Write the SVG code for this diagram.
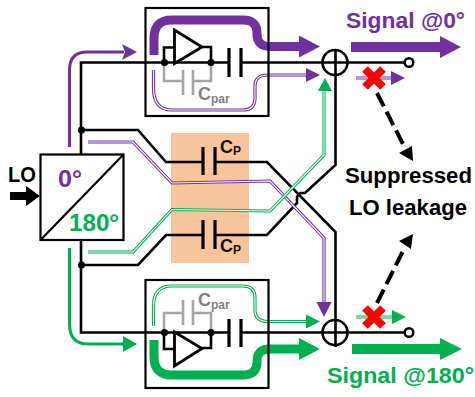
<svg xmlns="http://www.w3.org/2000/svg" width="475" height="397" viewBox="0 0 475 397">
<style>
text{font-family:"Liberation Sans",Arial,sans-serif;font-weight:700}
.w{fill:none;stroke:#000;stroke-width:2.6;stroke-linejoin:miter}
.box{fill:none;stroke:#000;stroke-width:2.2}
.plate{fill:none;stroke:#000;stroke-width:3.2}
.gray{fill:none;stroke:#A6A6A6;stroke-width:2.6}
.dot{fill:#000}
.pt{fill:none;stroke:#7030A0;stroke-width:9}
.gt{fill:none;stroke:#00B050;stroke-width:9}
.pm{fill:none;stroke:#7030A0;stroke-width:3}
.gm{fill:none;stroke:#00B050;stroke-width:3}
.po{fill:none;stroke:#7030A0;stroke-width:3.2}
.go{fill:none;stroke:#00B050;stroke-width:3.2}
.in{fill:none;stroke:#fff;stroke-width:1.1}
.pf{fill:#7030A0}
.gf{fill:#00B050}
.x{stroke:#FF0000;stroke-width:8;fill:none}
.dash{stroke:#000;stroke-width:4;stroke-dasharray:15 6;fill:none}
</style>
<defs>
<path id="dp1" d="M153.500 70V88Q153.500 110 172 110H243Q255 110 255 98V86Q255 75 268 75H306"/>
<path id="dg1" d="M153.500 326V306Q153.500 286 172 286H243Q255 286 255 298V310Q255 321.500 268 321.500H306"/>
<path id="dpx" d="M88 142H133L172 183L270 181L324 238V302"/>
<path id="dgx" d="M88 252H133L172 209.500L270 211L324 155V91"/>
<path id="dpo" d="M356 78H392"/>
<path id="dgo" d="M356 317H392"/>
</defs>
<rect id="shade" x="171" y="133" width="78" height="130" fill="#F8C49C"/>
<g id="connectors">
<path class="w" d="M81 154V62.500H229"/>
<path class="w" d="M81 240V332.500H229"/>
<path class="w" d="M81 130H138L166 162H267L335.500 232V347"/>
<path class="w" d="M81 265H138L166 235H267L297 203V197L300 193H305L335.500 165V49"/>
<path class="w" d="M241 62.500H405"/>
<path class="w" d="M241 332.500H405"/>
<path class="pm" d="M69.500 147V70Q69.500 52 87 52H124"/>
<path class="pf" d="M137 52L122 44L125 52L122 60Z"/>
<path class="gm" d="M69.500 248V324Q69.500 344 88 344H124"/>
<path class="gf" d="M137 344L123 336V352Z"/>
<use href="#dpx" class="po"/><use href="#dpx" class="in"/>
<path class="pf" d="M324 317L316.500 302H331.500Z"/>
<use href="#dgx" class="go"/><use href="#dgx" class="in"/>
<path class="gf" d="M325 78L318 91H332Z"/>
<path class="pt" d="M154 55V38Q154 20 172 20H243Q257 20 257 33V34Q257 46.500 270 46.500H300"/>
<path class="pf" d="M320 46.500L299 35.500V57.500Z"/>
<path class="gt" d="M154 340V357Q154 375 172 375H243Q257 375 257 362V361Q257 349 270 349H300"/>
<path class="gf" d="M320 349L299 338V360Z"/>
<use href="#dp1" class="po"/><use href="#dp1" class="in"/>
<path class="pf" d="M320 75L306 68V82Z"/>
<use href="#dg1" class="go"/><use href="#dg1" class="in"/>
<path class="gf" d="M320 321.500L306 314.500V328.500Z"/>
<path class="pf" d="M351 42H440V36L461 47L440 58V52H351Z"/>
<path class="gf" d="M352 344H440V338L462 349L440 360V354H352Z"/>
<use href="#dpo" class="po"/><use href="#dpo" class="in"/>
<path class="pf" d="M405 78L391 71V85Z"/>
<use href="#dgo" class="go"/><use href="#dgo" class="in"/>
<path class="gf" d="M406 317L392 310V324Z"/>
<path class="dash" d="M377 93L405 148"/>
<path class="dot" d="M413 161L399 153L412 146Z"/>
<path class="dash" d="M377 303L405 247"/>
<path class="dot" d="M413 234L399 241L411 249Z"/>
</g>
<g id="lo-input">
<path class="dot" d="M10 192H26V186L40 196L26 206V200H10Z"/>
<text x="8" y="182" font-size="22" textLength="28" lengthAdjust="spacingAndGlyphs">LO</text>
</g>
<g id="splitter">
<rect x="40.500" y="154.500" width="83" height="85.500" fill="#fff" stroke="#000" stroke-width="2.2"/>
<path class="box" d="M40.500 240L123.500 154.500"/>
<text x="58" y="187" font-size="23" fill="#7030A0" textLength="24" lengthAdjust="spacingAndGlyphs">0°</text>
<text x="69" y="231" font-size="23" fill="#00B050" textLength="50" lengthAdjust="spacingAndGlyphs">180°</text>
</g>
<g id="amp-top">
<rect class="box" x="145.500" y="8" width="123" height="108"/>
<path class="gray" d="M164 62V81H183M211 62V81H193"/>
<path class="gray" d="M183 70V95M193 70V95"/>
<path class="w" d="M164 62V47.500H174M202 47H211V62"/>
<path d="M174.500 30V63.500L202 47Z" fill="#fff" stroke="#000" stroke-width="2.8"/>
<circle class="dot" cx="164.500" cy="62.500" r="3.600"/>
<circle class="dot" cx="211" cy="62.500" r="3.600"/>
<path class="plate" d="M229 48V77M241 48V77"/>
<text x="198" y="100" font-size="18" fill="#808080">C<tspan font-size="12" dy="3">par</tspan></text>
</g>
<g id="amp-bottom">
<rect class="box" x="145.500" y="280" width="123" height="108"/>
<path class="gray" d="M164 333V313H183M211 333V313H193"/>
<path class="gray" d="M183 300V325M193 300V325"/>
<path class="w" d="M164 333V349H174M202 348H211V333"/>
<path d="M174.500 332V366L202 348.500Z" fill="#fff" stroke="#000" stroke-width="2.8"/>
<circle class="dot" cx="164.500" cy="332.500" r="3.600"/>
<circle class="dot" cx="211" cy="332.500" r="3.600"/>
<path class="plate" d="M229 319V347M241 319V347"/>
<text x="198" y="306" font-size="18" fill="#808080">C<tspan font-size="12" dy="3">par</tspan></text>
</g>
<g id="cp-top">
<path d="M203 162H215" stroke="#F8C49C" stroke-width="4"/>
<path class="plate" d="M203 147V175M215 147V175"/>
<text x="220" y="153" font-size="18" fill="#111">C<tspan font-size="12" dy="2">P</tspan></text>
</g>
<g id="cp-bottom">
<path d="M203 235H215" stroke="#F8C49C" stroke-width="4"/>
<path class="plate" d="M203 220V249M215 220V249"/>
<text x="220" y="252" font-size="18" fill="#111">C<tspan font-size="12" dy="2">P</tspan></text>
</g>
<g id="dots"><circle class="dot" cx="81.500" cy="130" r="3.600"/><circle class="dot" cx="81.500" cy="265" r="3.600"/></g>
<g id="sum-top">
<circle cx="335" cy="62.500" r="12.500" fill="none" stroke="#000" stroke-width="2.6"/>
<circle cx="409" cy="62.500" r="4.300" fill="#fff" stroke="#000" stroke-width="2.4"/>
<path class="x" d="M365 69L383 87M383 69L365 87"/>
</g>
<g id="sum-bottom">
<circle cx="335" cy="332.500" r="12.500" fill="none" stroke="#000" stroke-width="2.6"/>
<circle cx="409" cy="332.500" r="4.300" fill="#fff" stroke="#000" stroke-width="2.4"/>
<path class="x" d="M365 308L383 326M383 308L365 326"/>
</g>
<g id="labels">
<text x="346" y="28" font-size="21.500" fill="#7030A0" textLength="119" lengthAdjust="spacingAndGlyphs">Signal @0°</text>
<text x="327" y="383" font-size="21.200" fill="#00B050" textLength="147" lengthAdjust="spacingAndGlyphs">Signal @180°</text>
<text x="345" y="183" font-size="22.500" fill="#000" textLength="127" lengthAdjust="spacingAndGlyphs">Suppressed</text>
<text x="349" y="215" font-size="22.500" fill="#000" textLength="118" lengthAdjust="spacingAndGlyphs">LO leakage</text>
</g>
</svg>
